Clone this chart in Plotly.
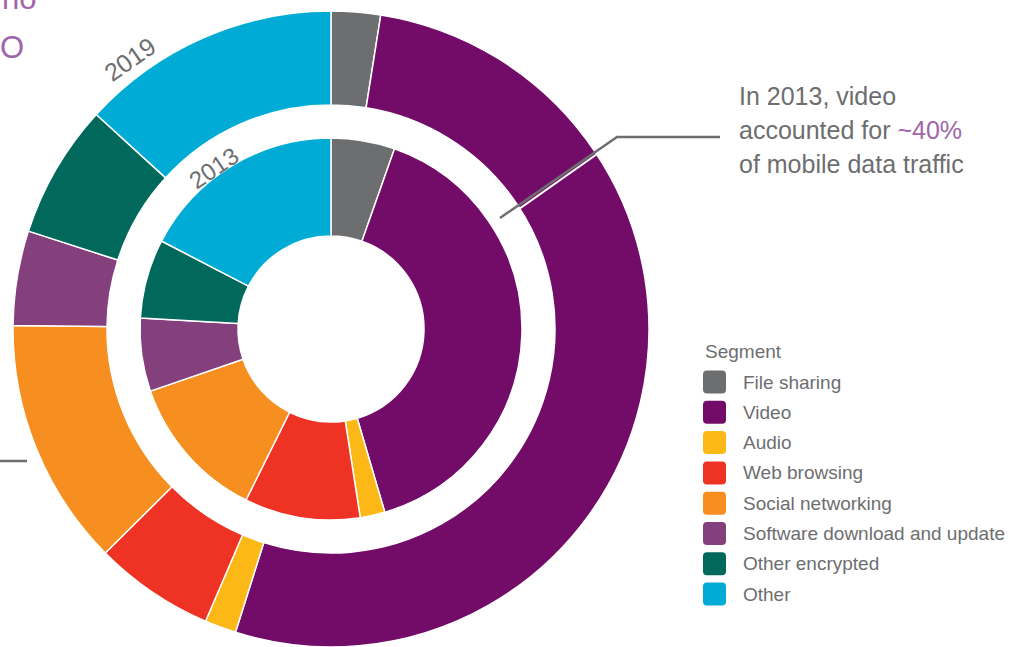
import plotly.graph_objects as go

segments = ["File sharing", "Video", "Audio", "Web browsing", "Social networking",
            "Software download and update", "Other encrypted", "Other"]
share_2013 = [5.4, 40.1, 2.1, 9.8, 12.4, 6.2, 6.7, 17.4]
share_2019 = [2.5, 52.3, 1.6, 6.1, 12.6, 4.8, 6.8, 13.2]
colors = ["#6d6e70", "#730c69", "#fbb817", "#ee3224", "#f68e20", "#843f7d", "#00695c", "#00acd6"]

GRAY = "#6d6e70"
ACCENT = "#a066aa"
FONT = "Liberation Sans, Arial, sans-serif"

W, H = 1013, 647
cx, cy = 331, 329          # donut centre in px (from top-left)
r_outer, r_inner = 318, 191


def px(x):
    return x / W


def py(y):
    return 1 - y / H


def dom(r):
    return dict(x=[(cx - r) / W, (cx + r) / W], y=[(H - cy - r) / H, (H - cy + r) / H])


fig = go.Figure()

fig.add_trace(go.Pie(
    labels=segments, values=share_2019, name="2019",
    domain=dom(r_outer), hole=224 / r_outer,
    sort=False, direction="clockwise", rotation=0,
    marker=dict(colors=colors, line=dict(color="white", width=1.5)),
    textinfo="none", showlegend=False))

fig.add_trace(go.Pie(
    labels=segments, values=share_2013, name="2013",
    domain=dom(r_inner), hole=93 / r_inner,
    sort=False, direction="clockwise", rotation=0,
    marker=dict(colors=colors, line=dict(color="white", width=1.5)),
    textinfo="none", showlegend=False))

annotations = []
shapes = []

# ring labels
annotations.append(dict(x=px(130), y=py(59), text="2019", textangle=-35, showarrow=False,
                        xanchor="center", yanchor="middle",
                        font=dict(size=25, color=GRAY, family=FONT)))
annotations.append(dict(x=px(213), y=py(168), text="2013", textangle=-34, showarrow=False,
                        xanchor="center", yanchor="middle",
                        font=dict(size=24, color=GRAY, family=FONT)))

# callout text
callout = ["In 2013, video",
           "accounted for <span style='color:%s'>~40%%</span>" % ACCENT,
           "of mobile data traffic"]
for i, line in enumerate(callout):
    annotations.append(dict(x=px(737), y=py(96 + 34 * i), text=line, showarrow=False,
                            xanchor="left", yanchor="middle",
                            font=dict(size=25, color=GRAY, family=FONT)))

shapes.append(dict(type="line", xref="paper", yref="paper",
                   x0=px(617), y0=py(140), x1=px(502), y1=py(221),
                   line=dict(color="white", width=2)))
shapes.append(dict(type="path", xref="paper", yref="paper",
                   path="M %f,%f L %f,%f L %f,%f" % (px(720), py(137), px(617), py(137), px(500), py(218)),
                   line=dict(color=GRAY, width=2.5)))
shapes.append(dict(type="line", xref="paper", yref="paper",
                   x0=px(0), y0=py(461), x1=px(27), y1=py(461),
                   line=dict(color=GRAY, width=2.5)))

# clipped heading fragments at top-left
annotations.append(dict(x=px(38), y=py(-2), text="no", showarrow=False, xanchor="right",
                        yanchor="middle", font=dict(size=31, color=ACCENT, family=FONT)))
annotations.append(dict(x=px(26), y=py(47), text="O", showarrow=False, xanchor="right",
                        yanchor="middle", font=dict(size=31, color=ACCENT, family=FONT)))

# legend
annotations.append(dict(x=px(703), y=py(351), text="Segment", showarrow=False,
                        xanchor="left", yanchor="middle",
                        font=dict(size=19, color=GRAY, family=FONT)))
for i, (seg, col) in enumerate(zip(segments, colors)):
    yc = 382 + 30.3 * i
    x0, x1, y0, y1 = 703, 726, yc - 11.5, yc + 11.5
    r = 4
    path = ("M %f,%f L %f,%f Q %f,%f %f,%f L %f,%f Q %f,%f %f,%f L %f,%f Q %f,%f %f,%f "
            "L %f,%f Q %f,%f %f,%f Z") % (
        px(x0 + r), py(y0), px(x1 - r), py(y0), px(x1), py(y0), px(x1), py(y0 + r),
        px(x1), py(y1 - r), px(x1), py(y1), px(x1 - r), py(y1),
        px(x0 + r), py(y1), px(x0), py(y1), px(x0), py(y1 - r),
        px(x0), py(y0 + r), px(x0), py(y0), px(x0 + r), py(y0))
    shapes.append(dict(type="path", xref="paper", yref="paper", path=path,
                       fillcolor=col, line=dict(width=0)))
    annotations.append(dict(x=px(741), y=py(yc), text=seg, showarrow=False,
                            xanchor="left", yanchor="middle",
                            font=dict(size=19, color=GRAY, family=FONT)))

fig.update_layout(
    width=W, height=H,
    margin=dict(l=0, r=0, t=0, b=0),
    paper_bgcolor="white",
    plot_bgcolor="white",
    showlegend=False,
    annotations=annotations,
    shapes=shapes,
    font=dict(family=FONT, color=GRAY),
)

# drop the default page margin so the figure fills the window exactly
fig.write_html("out.html", config={"displayModeBar": False},
               post_script="document.body.style.margin='0';document.body.style.overflow='hidden';")
